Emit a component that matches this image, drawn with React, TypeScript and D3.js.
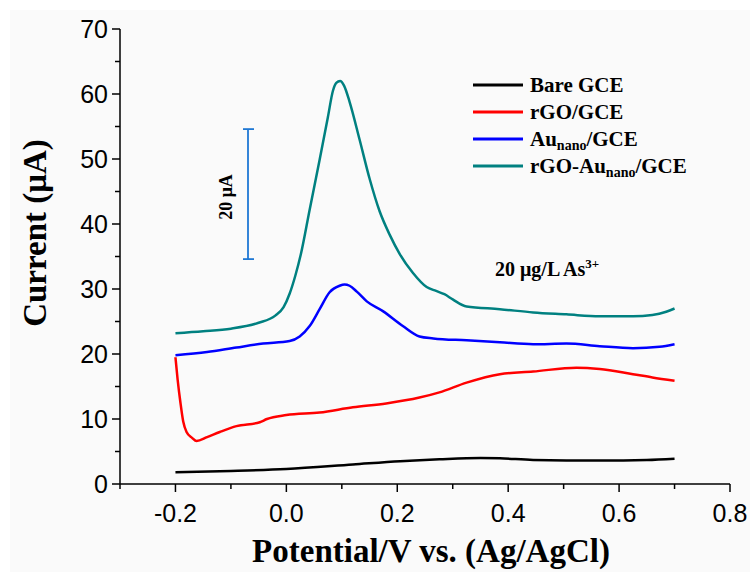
import React from "react";
import * as d3 from "d3";

const W = 750;
const H = 572;

const xTicks = [-0.2, 0.0, 0.2, 0.4, 0.6, 0.8];
const xMinor = [-0.3, -0.1, 0.1, 0.3, 0.5, 0.7];
const yTicks = [0, 10, 20, 30, 40, 50, 60, 70];
const yMinor = [5, 15, 25, 35, 45, 55, 65];

const bareGCE: [number, number][] = [
  [-0.2, 1.8], [-0.1, 2.0], [0.0, 2.3], [0.12, 3.0], [0.205, 3.5], [0.276, 3.8],
  [0.35, 4.0], [0.385, 3.95], [0.445, 3.7], [0.565, 3.6], [0.65, 3.7], [0.7, 3.9],
];

const rGO: [number, number][] = [
  [-0.2, 19.5], [-0.196, 16], [-0.191, 12.5], [-0.186, 9.6], [-0.18, 8.0], [-0.17, 7.1],
  [-0.162, 6.6], [-0.143, 7.2], [-0.12, 8.0], [-0.09, 8.9], [-0.048, 9.5], [-0.035, 10.0],
  [0.0, 10.6], [0.06, 11.0], [0.12, 11.8], [0.18, 12.4], [0.24, 13.3], [0.276, 14.1],
  [0.325, 15.6], [0.385, 16.9], [0.445, 17.3], [0.523, 17.9], [0.565, 17.7], [0.625, 16.9],
  [0.66, 16.4], [0.7, 15.9],
];

const auNano: [number, number][] = [
  [-0.2, 19.8], [-0.143, 20.3], [-0.09, 21.0], [-0.042, 21.6], [0.006, 22.0], [0.024, 22.7],
  [0.042, 24.3], [0.06, 26.9], [0.078, 29.5], [0.096, 30.5], [0.105, 30.7], [0.114, 30.5],
  [0.127, 29.6], [0.145, 28.1], [0.174, 26.6], [0.21, 24.3], [0.24, 22.7], [0.265, 22.4],
  [0.325, 22.1], [0.385, 21.8], [0.445, 21.5], [0.505, 21.6], [0.565, 21.2], [0.625, 20.9],
  [0.673, 21.1], [0.7, 21.5],
];

const rGOAu: [number, number][] = [
  [-0.2, 23.2], [-0.15, 23.5], [-0.1, 23.9], [-0.05, 24.8], [-0.02, 25.9], [-0.005, 27.2],
  [0.006, 29.3], [0.016, 32.0], [0.026, 35.3], [0.042, 42.2], [0.06, 49.9], [0.075, 56.5],
  [0.084, 60.5], [0.09, 61.7], [0.097, 62.0], [0.104, 61.3], [0.114, 58.8], [0.132, 53.0],
  [0.15, 47.0], [0.168, 42.0], [0.186, 38.4], [0.205, 35.3], [0.228, 32.5], [0.253, 30.3],
  [0.27, 29.7], [0.285, 29.2], [0.3, 28.4], [0.325, 27.3], [0.385, 26.9], [0.445, 26.4],
  [0.505, 26.1], [0.565, 25.8], [0.625, 25.8], [0.66, 26.0], [0.685, 26.5], [0.7, 27.0],
];

const seriesNames = ["Bare GCE", "rGO/GCE", "Aunano/GCE", "rGO-Aunano/GCE"];
const seriesColors = ["#000000", "#ff0000", "#0000ff", "#008080"];
const seriesData = [bareGCE, rGO, auNano, rGOAu];

const scaleBarRange = [34.6, 54.6];

export default function App() {
  const x = d3.scaleLinear().domain([-0.3, 0.8]).range([120, 730]);
  const y = d3.scaleLinear().domain([0, 70]).range([484, 29]);
  const line = d3
    .line<[number, number]>()
    .x((d) => x(d[0]))
    .y((d) => y(d[1]))
    .curve(d3.curveMonotoneX);

  const tickFont = "'Liberation Sans', Arial, sans-serif";
  const serif = "'Liberation Serif', 'Times New Roman', serif";

  const legendY = [85, 112, 139, 166];

  return (
    <svg
      width={W}
      height={H}
      style={{ position: "absolute", left: 0, top: 0 }}
      xmlns="http://www.w3.org/2000/svg"
    >
      <rect x={0} y={0} width={W} height={H} fill="#ffffff" />
      <rect x={10} y={10} width={W - 10} height={H - 10} fill="#fafafa" />

      {/* axes */}
      <line x1={x(-0.3)} x2={x(-0.3)} y1={y(70)} y2={y(0)} stroke="#000" strokeWidth={1.5} />
      <line x1={x(-0.3)} x2={x(0.8)} y1={y(0)} y2={y(0)} stroke="#000" strokeWidth={1.5} />
      {yTicks.map((t) => (
        <g key={"yt" + t}>
          <line x1={x(-0.3) - 8} x2={x(-0.3)} y1={y(t)} y2={y(t)} stroke="#000" strokeWidth={1.5} />
          <text
            x={x(-0.3) - 12}
            y={y(t)}
            textAnchor="end"
            dominantBaseline="central"
            fontFamily={tickFont}
            fontSize={25}
            fill="#000"
          >
            {t}
          </text>
        </g>
      ))}
      {yMinor.map((t) => (
        <line key={"ym" + t} x1={x(-0.3) - 5} x2={x(-0.3)} y1={y(t)} y2={y(t)} stroke="#000" strokeWidth={1.5} />
      ))}
      {xTicks.map((t) => (
        <g key={"xt" + t}>
          <line x1={x(t)} x2={x(t)} y1={y(0)} y2={y(0) + 8} stroke="#000" strokeWidth={1.5} />
          <text
            x={x(t)}
            y={y(0) + 38}
            textAnchor="middle"
            fontFamily={tickFont}
            fontSize={25}
            fill="#000"
          >
            {t.toFixed(1)}
          </text>
        </g>
      ))}
      {xMinor.map((t) => (
        <line key={"xm" + t} x1={x(t)} x2={x(t)} y1={y(0)} y2={y(0) + 5} stroke="#000" strokeWidth={1.5} />
      ))}

      {/* axis titles */}
      <text
        x={431}
        y={562}
        textAnchor="middle"
        fontFamily={serif}
        fontWeight="bold"
        fontSize={33}
        fill="#000"
      >
        Potential/V vs. (Ag/AgCl)
      </text>
      <text
        transform="translate(46,233) rotate(-90)"
        textAnchor="middle"
        fontFamily={serif}
        fontWeight="bold"
        fontSize={33}
        fill="#000"
      >
        Current (μA)
      </text>

      {/* curves */}
      {seriesData.map((s, i) => (
        <path key={"s" + i} d={line(s) || ""} fill="none" stroke={seriesColors[i]} strokeWidth={2.5} />
      ))}

      {/* legend */}
      {seriesNames.map((n, i) => (
        <g key={"lg" + i}>
          <line x1={473} x2={523} y1={legendY[i]} y2={legendY[i]} stroke={seriesColors[i]} strokeWidth={3} />
          <text
            x={530}
            y={legendY[i] + 7}
            fontFamily={serif}
            fontWeight="bold"
            fontSize={21}
            fill="#000"
          >
            {n.includes("Aunano") ? (
              <>
                {n.split("Aunano")[0]}Au
                <tspan fontSize={14} dy={4}>nano</tspan>
                <tspan dy={-4}>{n.split("Aunano")[1]}</tspan>
              </>
            ) : (
              n
            )}
          </text>
        </g>
      ))}

      {/* scale bar */}
      <line x1={248} x2={248} y1={y(scaleBarRange[0])} y2={y(scaleBarRange[1])} stroke="#1f78d4" strokeWidth={1.8} />
      <line x1={243} x2={254} y1={y(scaleBarRange[0])} y2={y(scaleBarRange[0])} stroke="#1f78d4" strokeWidth={1.8} />
      <line x1={243} x2={254} y1={y(scaleBarRange[1])} y2={y(scaleBarRange[1])} stroke="#1f78d4" strokeWidth={1.8} />
      <text
        transform="translate(232,197) rotate(-90)"
        textAnchor="middle"
        fontFamily={serif}
        fontWeight="bold"
        fontSize={18}
        fill="#000"
      >
        20 μA
      </text>

      {/* annotation */}
      <text x={495} y={276} fontFamily={serif} fontWeight="bold" fontSize={20} fill="#000">
        20 μg/L As
        <tspan fontSize={13} dy={-8}>3+</tspan>
      </text>
    </svg>
  );
}
